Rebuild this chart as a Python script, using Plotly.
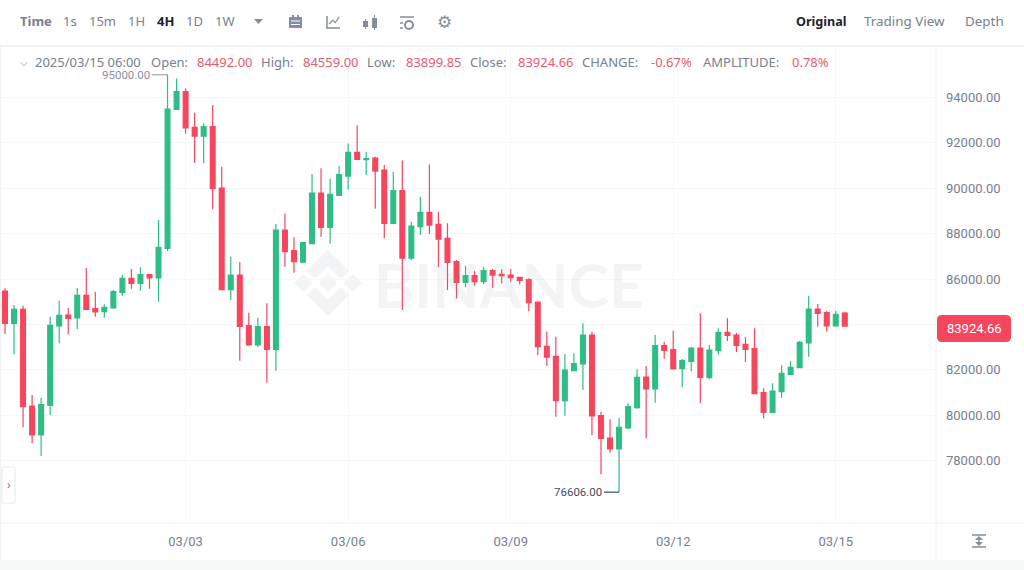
import pandas as pd
import plotly.graph_objects as go

W, H = 1024, 570

dates = pd.date_range("2025-02-27 16:00", periods=94, freq="4h")

opens = [85470,84045,84662,80402,79124,80431,83928,84412,84280,85279,84692,84559,84721,85411,86028,85808,86190,86043,87350,93476,
         94255,92683,92301,92712,90009,85529,86175,83942,83090,83898,82899,88158,87247,86748,87556,89788,88275,89686,90538,91581,
         91257,91331,90802,88452,89891,86924,88305,88936,88408,87791,86762,85852,86145,85881,86366,86204,86175,86072,85969,84985,
         83031,82590,80637,81959,82253,83531,79976,78992,78507,79433,80329,81680,81151,83061,82885,82047,82371,82958,81651,82841,
         83649,83531,83120,82929,80990,80123,81034,81798,82092,83179,84677,84515,83928,84492]
highs = [85588,84853,84824,80887,80769,84339,85044,84721,85602,86484,85441,84883,85514,86190,86440,86513,86220,88614,95000,94842,
         94402,93329,92859,93667,90949,86983,86748,84515,84295,84927,88423,88892,87835,87644,90626,90876,90420,90978,91977,92771,
         91610,91390,91022,90729,91228,88525,89627,91052,88966,88452,86836,86586,86366,86542,86439,86424,86439,86101,86028,85000,
         83677,83457,82679,82723,84045,83678,80152,79815,79859,80520,82018,82165,83531,83237,83722,82473,83017,84486,83090,83825,
         84266,83634,83443,83825,81181,81401,82194,82371,83267,85250,84897,84600,84600,84559]
lows = [83575,82679,79462,78757,78199,80005,83164,83560,83781,84640,84339,84295,84692,85250,85573,85485,85573,85000,87233,93447,
        92418,91126,91096,89069,85500,85073,82400,83060,82988,81430,81959,86542,86278,86689,87530,87864,87556,89656,89950,91243,
        90582,89098,87791,88422,84632,86836,87938,87982,86513,85514,85146,85631,85705,85778,85617,85807,85881,85763,84574,82649,
        82164,79931,79975,81930,81107,79109,77391,78346,76606,79374,80285,78977,80549,82488,82010,81225,81930,80534,81577,82664,
        83267,82782,82341,80917,79859,80100,80769,81768,82062,82576,83898,83678,83898,83899.85]
closes = [84045,84662,80373,79124,80461,83957,84398,84266,85279,84662,84545,84750,85441,86028,85808,86190,86043,87395,93491,94255,
          92654,92301,92712,89980,85529,86175,83913,83090,83898,82899,88158,87203,86762,87600,89788,88275,89730,90596,91581,91272,
          91302,90758,88452,89891,86924,88334,88936,88378,87761,86733,85852,86145,85881,86366,86175,86145,86057,85940,84955,83016,
          82561,80637,81988,82267,83531,79961,78977,78507,79462,80373,81666,81151,83061,82855,82033,82400,82958,81666,82870,83634,
          83516,83076,82899,80946,80123,81063,81842,82106,83208,84677,84486,83928,84442,83924.66]

price_ticks = [78000,80000,82000,84000,86000,88000,90000,92000,94000]
date_ticks = ["2025-03-03","2025-03-06","2025-03-09","2025-03-12","2025-03-15"]
date_labels = ["03/03","03/06","03/09","03/12","03/15"]

UP, DOWN = "#2ebd85", "#f6465d"
SOFT_RED = "#e85a70"
GRAY, DARK, LINE, GRID = "#76808f", "#1e2329", "#eef0f2", "#f6f7f8"
UI = "Noto Sans"

def px(x): return x / W
def py(y): return 1 - y / H

shapes, notes = [], []

def rect(x0, y0, x1, y1, fill, line=None, layer="below"):
    shapes.append(dict(type="rect", xref="paper", yref="paper", x0=px(x0), x1=px(x1), y0=py(y0), y1=py(y1),
                       fillcolor=fill, line=dict(color=line or fill, width=1 if line else 0), layer=layer))

def seg(x0, y0, x1, y1, color, w=1, layer="below"):
    shapes.append(dict(type="line", xref="paper", yref="paper", x0=px(x0), x1=px(x1), y0=py(y0), y1=py(y1),
                       line=dict(color=color, width=w), layer=layer))

def poly(points, fill, layer="below"):
    d = "M" + " L".join(f"{px(a):.5f},{py(b):.5f}" for a, b in points) + " Z"
    shapes.append(dict(type="path", xref="paper", yref="paper", path=d, fillcolor=fill, line=dict(width=0), layer=layer))

def label(x, y, text, color=GRAY, size=13, anchor="left", family=UI, bold=False):
    notes.append(dict(xref="paper", yref="paper", x=px(x), y=py(y), text=f"<b>{text}</b>" if bold else text,
                      showarrow=False, xanchor=anchor, yanchor="middle", borderpad=0, borderwidth=0,
                      font=dict(color=color, size=size, family=family)))

# page chrome
rect(0, 560, 1024, 570, "#f7f8f8")
seg(0, 46, 1024, 46, LINE, 1.5)
seg(0, 523, 1024, 523, LINE)
seg(936, 46, 936, 560, LINE)
seg(0.5, 46, 0.5, 560, LINE)
rect(2, 467, 15, 503, "#ffffff", "#e6e8ea", layer="above")
label(8.5, 484, "›", GRAY, 12, "center")

# toolbar
label(20, 21, "Time", GRAY, 13, bold=True)
for x, t in [(63,"1s"),(89,"15m"),(128,"1H"),(186,"1D"),(215,"1W")]:
    label(x, 21, t, GRAY, 13)
label(157, 21, "4H", DARK, 13, bold=True)
label(864, 21, "Trading View", GRAY, 13.4)
label(965, 21, "Depth", GRAY, 13.4)
label(796, 21, "Original", DARK, 12.6, bold=True)
poly([(254,19),(263,19),(258.5,24)], "#848e9c")
# calendar
rect(289,17,302,28,"#848e9c")
rect(291,20.5,300,21.5,"#ffffff")
rect(291,24,300,25,"#ffffff")
rect(292,15,294,18,"#848e9c"); rect(297,15,299,18,"#848e9c")
# line chart
seg(327,16,327,28,"#848e9c",1.5); seg(326,28,340,28,"#848e9c",1.5)
seg(329,24,333,20,"#848e9c",1.3); seg(333,20,335,23,"#848e9c",1.3); seg(335,23,339,17,"#848e9c",1.3)
# candles
rect(363,21,368,27,"#848e9c"); seg(365.5,19,365.5,29,"#848e9c")
rect(372,18,377,28,"#848e9c"); seg(374.5,15,374.5,30,"#848e9c")
# settings lines
seg(400,17,414,17,"#848e9c",1.5); seg(400,23,403,23,"#848e9c",1.5); seg(400,28,403,28,"#848e9c",1.5)
shapes.append(dict(type="circle", xref="paper", yref="paper", x0=px(405), x1=px(413), y0=py(21), y1=py(29),
                   line=dict(color="#848e9c", width=2), fillcolor="rgba(0,0,0,0)", layer="below"))
label(444, 22, "⚙", "#848e9c", 17, "center", "DejaVu Sans")

# readout line
label(20, 62, "⌵", GRAY, 10)
label(35, 62, "2025/03/15 06:00", GRAY)
for x, t, c in [(151,"Open:",GRAY),(197,"84492.00",SOFT_RED),(261,"High:",GRAY),(303,"84559.00",SOFT_RED),
                (367,"Low:",GRAY),(406,"83899.85",SOFT_RED),(470,"Close:",GRAY),(518,"83924.66",SOFT_RED),
                (582,"CHANGE:",GRAY),(651,"-0.67%",SOFT_RED),(703,"AMPLITUDE:",GRAY),(792,"0.78%",SOFT_RED)]:
    label(x, 62, t, c)

# watermark
WM = "#f3f4f6"
cx, cy = 328, 283
poly([(cx,cy-9),(cx+9,cy),(cx,cy+9),(cx-9,cy)], WM)
poly([(cx-34,cy),(cx-25,cy-9),(cx-16,cy),(cx-25,cy+9)], WM)
poly([(cx+34,cy),(cx+25,cy-9),(cx+16,cy),(cx+25,cy+9)], WM)
poly([(cx,cy-33),(cx+21,cy-12),(cx+13,cy-4),(cx,cy-17),(cx-13,cy-4),(cx-21,cy-12)], WM)
poly([(cx,cy+33),(cx+21,cy+12),(cx+13,cy+4),(cx,cy+17),(cx-13,cy+4),(cx-21,cy+12)], WM)
notes.append(dict(xref="paper", yref="paper", x=px(509), y=py(284), text="<b>BINANCE</b>", showarrow=False,
                  xanchor="center", yanchor="middle", font=dict(size=61, family="Lato", color="rgba(160,170,185,0.13)")))

# expand icon
seg(972,535,986,535,"#848e9c",1.5); seg(972,547,986,547,"#848e9c",1.5)
poly([(979,536),(983,540),(975,540)],"#848e9c"); poly([(979,546),(983,542),(975,542)],"#848e9c")
seg(979,539,979,543,"#848e9c",1.5)

# last price tag
r = 5
x0, x1, y0, y1 = 937, 1011, 315, 342
d = (f"M{px(x0+r):.5f},{py(y0):.5f} L{px(x1-r):.5f},{py(y0):.5f} Q{px(x1):.5f},{py(y0):.5f} {px(x1):.5f},{py(y0+r):.5f} "
     f"L{px(x1):.5f},{py(y1-r):.5f} Q{px(x1):.5f},{py(y1):.5f} {px(x1-r):.5f},{py(y1):.5f} "
     f"L{px(x0+r):.5f},{py(y1):.5f} Q{px(x0):.5f},{py(y1):.5f} {px(x0):.5f},{py(y1-r):.5f} "
     f"L{px(x0):.5f},{py(y0+r):.5f} Q{px(x0):.5f},{py(y0):.5f} {px(x0+r):.5f},{py(y0):.5f} Z")
shapes.append(dict(type="path", xref="paper", yref="paper", path=d, fillcolor=DOWN, line=dict(width=0), layer="above"))
label(974, 328.5, f"{closes[-1]:.2f}", "#ffffff", 13, "center", "Roboto")

# high / low markers read from the data
hi = highs.index(max(highs))
lo = lows.index(min(lows))
notes.append(dict(x=dates[hi], y=highs[hi], text=f"{highs[hi]:.2f}", showarrow=True, arrowhead=0, arrowwidth=1,
                  arrowcolor="#8a929e", ax=-16, ay=0, xanchor="right", yanchor="middle",
                  font=dict(color="#8a929e", size=11.5, family="Roboto")))
notes.append(dict(x=dates[lo], y=lows[lo], text=f"{lows[lo]:.2f}", showarrow=True, arrowhead=0, arrowwidth=1,
                  arrowcolor=DARK, ax=-15, ay=0, xanchor="right", yanchor="middle",
                  font=dict(color="#474d57", size=11.5, family="Roboto")))

fig = go.Figure(go.Candlestick(
    x=dates, open=opens, high=highs, low=lows, close=closes,
    increasing=dict(line=dict(color=UP, width=1.2), fillcolor=UP),
    decreasing=dict(line=dict(color=DOWN, width=1.2), fillcolor=DOWN),
    whiskerwidth=0, hoverinfo="skip"))

# the last-price tag replaces whichever price label it would sit on
price_labels = ["" if abs(v - closes[-1]) < 500 else f"{v:.2f}" for v in price_ticks]

fig.update_layout(
    width=W, height=H, margin=dict(l=0, r=0, t=0, b=0), autosize=False,
    paper_bgcolor="#ffffff", plot_bgcolor="rgba(0,0,0,0)",
    showlegend=False, boxgap=0.24, shapes=shapes, annotations=notes,
    font=dict(family="Roboto", color=GRAY, size=13),
    xaxis=dict(type="date", domain=[0, 936/W], range=["2025-02-27 13:47", "2025-03-16 20:24"],
               rangeslider=dict(visible=False), tickmode="array", tickvals=date_ticks, ticktext=date_labels,
               showgrid=True, gridcolor=GRID, gridwidth=1, zeroline=False, showline=False, ticks="",
               ticklabelstandoff=9, tickfont=dict(family="Roboto", size=13, color=GRAY)),
    yaxis=dict(side="right", domain=[1-523/H, 1-47/H], range=[75246, 96225], tickmode="array",
               tickvals=price_ticks, ticktext=price_labels,
               showgrid=True, gridcolor=GRID, gridwidth=1, zeroline=False, showline=False, ticks="",
               ticklabelstandoff=9, tickfont=dict(family="Roboto", size=13, color=GRAY)),
)

fig.write_html("out.html", config={"displayModeBar": False},
               post_script="document.body.style.margin='0';document.body.style.overflow='hidden';")
